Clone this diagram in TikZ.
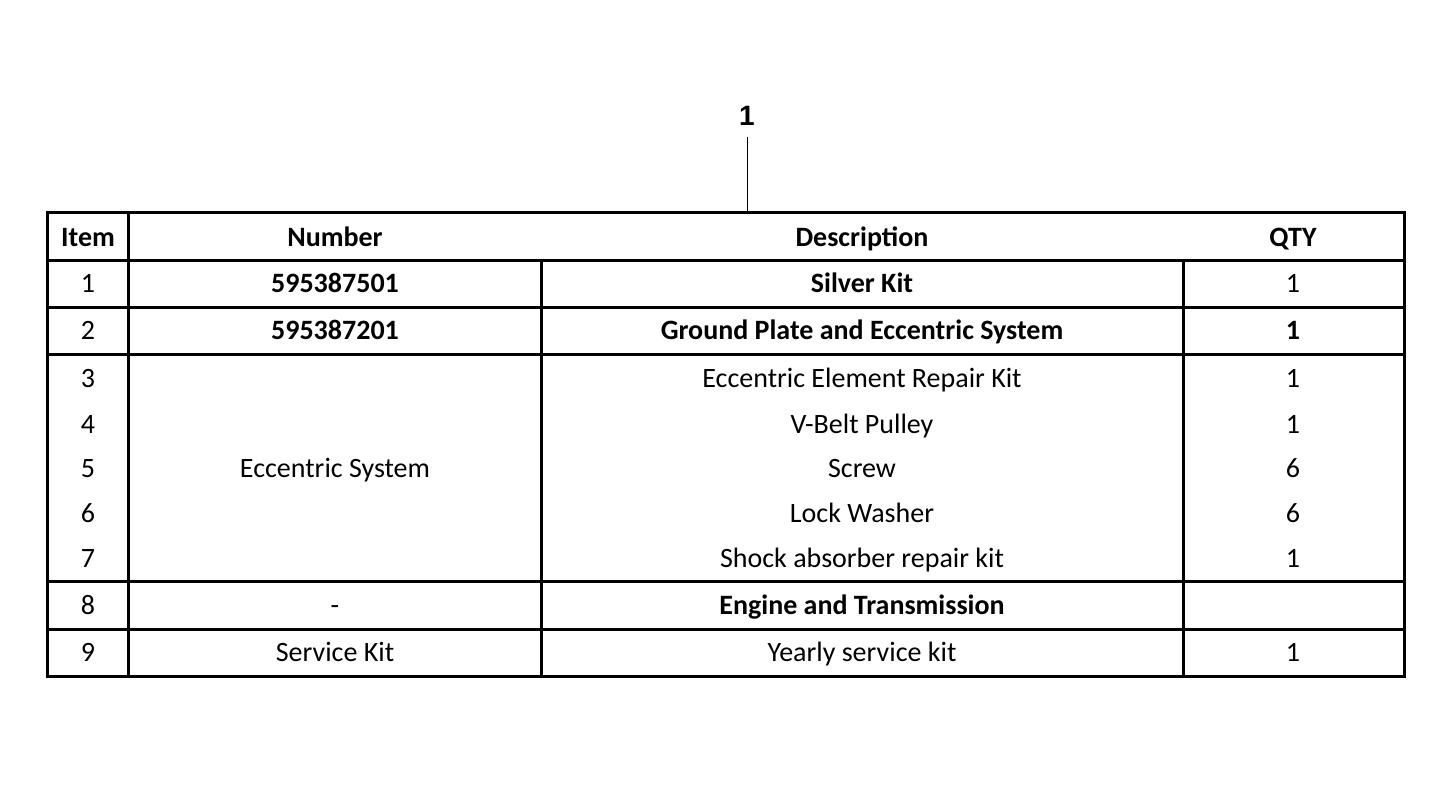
\documentclass[tikz,border=0pt]{standalone}
\usepackage{fontspec}
\setmainfont{Carlito}
\newfontfamily\calloutfont{Liberation Sans}
\usepackage{tikz}

\begin{document}
\begin{tikzpicture}[x=1pt,y=-1pt]
\tikzset{rule/.style={black,line width=3pt},
  cell/.style={font=\fontsize{28}{30}\selectfont,text height=20pt,text depth=6pt,inner sep=0pt},
  bcell/.style={cell,font=\fontsize{28}{30}\selectfont\bfseries}}
\useasboundingbox (0,0) rectangle (1445,791);

    % frame and rules
    \draw[rule] (47,213) rectangle (1404,676);
    \draw[rule] (128,213) -- (128,676);
    \draw[rule] (541,261) -- (541,676);
    \draw[rule] (1183,261) -- (1183,676);
    \foreach \y in {261,308,355,581,629}
        \draw[rule] (47,\y) -- (1404,\y);

    % callout
    \node[font=\calloutfont\bfseries\fontsize{28}{30}\selectfont] (callout) at (747,116) {1};
    \coordinate (tabletop) at (747,212);
    \draw[black,line width=1pt] (747,137) -- (tabletop);

    % header
    \node[bcell] (hitem) at (88,240) {Item};
    \node[bcell] (hnum) at (335,240) {Number};
    \node[bcell] (hdesc) at (862,240) {Description};
    \node[bcell] (hqty) at (1293,240) {QTY};

    % items
    \foreach \n/\y in {1/286,2/333,3/381,4/426,5/470,6/515,7/560,8/607,9/654}
        \node[cell] (item\n) at (88,\y) {\n};

    \node[bcell] (num1) at (335,286) {595387501};
    \node[bcell] (num2) at (335,333) {595387201};
    \node[cell] (numes) at (335,470) {Eccentric System};
    \node[cell] (num8) at (335,607) {-};
    \node[cell] (num9) at (335,654) {Service Kit};

    \node[bcell] (desc1) at (862,286) {Silver Kit};
    \node[bcell] (desc2) at (862,333) {Ground Plate and Eccentric System};
    \node[cell] (desc3) at (862,381) {Eccentric Element Repair Kit};
    \node[cell] (desc4) at (862,426) {V-Belt Pulley};
    \node[cell] (desc5) at (862,470) {Screw};
    \node[cell] (desc6) at (862,515) {Lock Washer};
    \node[cell] (desc7) at (862,560) {Shock absorber repair kit};
    \node[bcell] (desc8) at (862,607) {Engine and Transmission};
    \node[cell] (desc9) at (862,654) {Yearly service kit};

    \node[cell] (qty1) at (1293,286) {1};
    \node[bcell] (qty2) at (1293,333) {1};
    \foreach \n/\y/\q in {3/381/1,4/426/1,5/470/6,6/515/6,7/560/1,9/654/1}
        \node[cell] (qty\n) at (1293,\y) {\q};

\end{tikzpicture}
\end{document}
